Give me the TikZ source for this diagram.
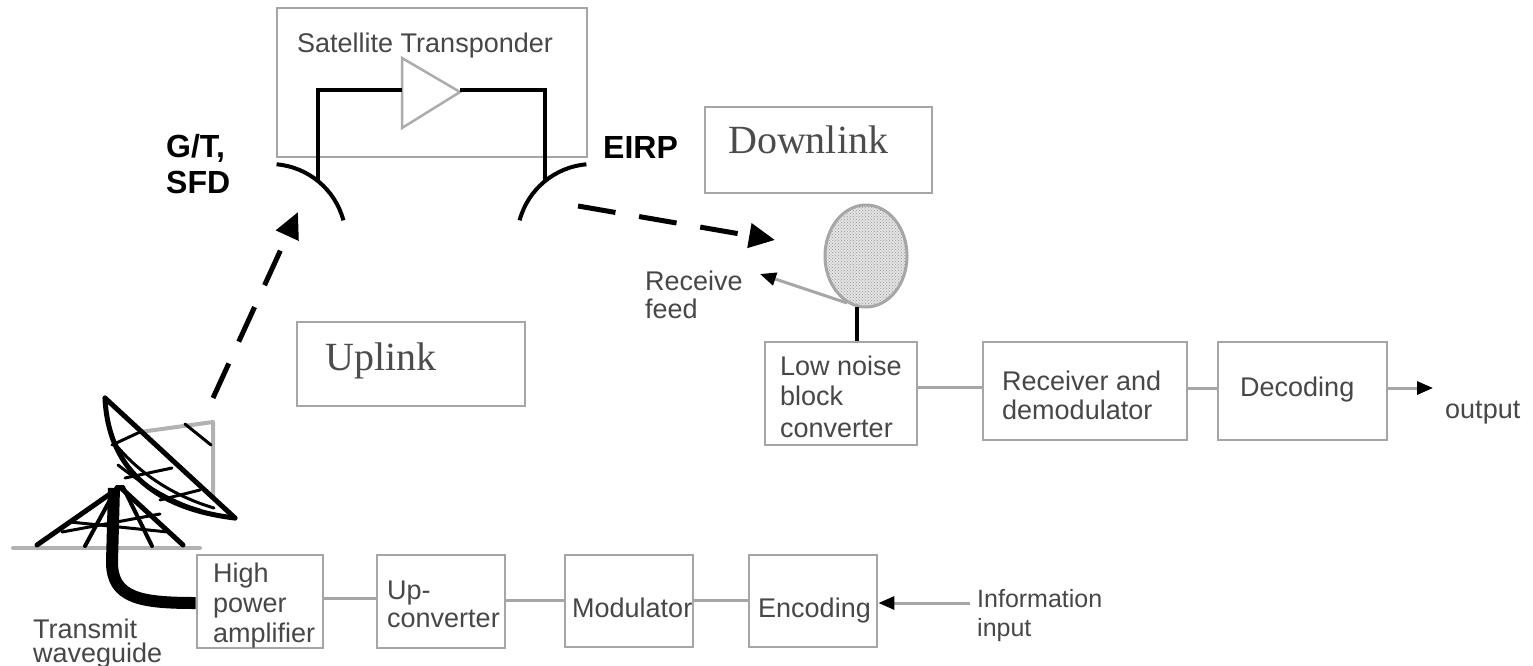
\documentclass[tikz,border=0pt]{standalone}
\usepackage{fontspec}
\setmainfont{Liberation Serif}
\setsansfont{Liberation Sans}
\usetikzlibrary{arrows.meta,patterns,shapes.geometric}
\begin{document}
\begin{tikzpicture}[x=1pt,y=-1pt,
  box/.style={draw=gray!70, line width=2.8pt, inner sep=0pt},
  lbl/.style={anchor=base west, inner sep=0pt, text=black!72, font=\sffamily\fontsize{27}{30}\selectfont},
  smalllbl/.style={anchor=base west, inner sep=0pt, text=black!72, font=\sffamily\fontsize{25}{28}\selectfont},
  boldlbl/.style={anchor=base west, inner sep=0pt, text=black, font=\sffamily\bfseries\fontsize{32}{35}\selectfont},
  seriflbl/.style={anchor=base west, inner sep=0pt, text=black!70, font=\rmfamily\fontsize{40}{44}\selectfont},
  conn/.style={draw=gray!70, line width=3pt},
  wire/.style={draw=black, line width=4pt},
  dasharrow/.style={draw=black, line width=5pt, dash pattern=on 38pt off 24pt, -{Triangle[length=26pt,width=24pt]}},
  tipped/.style={-{Triangle[color=black,length=16pt,width=13pt]}}
]
\useasboundingbox (0,0) rectangle (1533,665);
\fill[white] (0,0) rectangle (1533,665);

% ---------- satellite transponder ----------
\node[box, minimum width=310pt, minimum height=149pt] (trans) at (432,82.5) {};
\node[lbl] (tsat) at (297,52) {Satellite Transponder};
\draw[gray!65, line width=2.5pt, line join=miter] (402,58) -- (460,92) -- (402,128) -- cycle;
\coordinate (ampin) at (402,90);
\coordinate (ampout) at (460,90);
\draw[wire, line join=miter] (318,182) -- (318,90) -- (ampin);
\draw[wire, line join=miter] (ampout) -- (545,90) -- (545,182);
% receive / transmit antennas of the satellite
\draw[wire] (270,240) ++(-85:76) arc[start angle=-85, end angle=-15, radius=76];
\draw[wire] (593,240) ++(-95:76) arc[start angle=-95, end angle=-165, radius=76];
\node[boldlbl] (tgt) at (166,157) {G/T,};
\node[boldlbl] (tsfd) at (166,193) {SFD};
\node[boldlbl] (teirp) at (603,158) {EIRP};

% ---------- link labels ----------
\node[box, minimum width=227pt, minimum height=86pt] (down) at (818.5,150) {};
\node[seriflbl] (tdown) at (728,153) {Downlink};
\node[box, minimum width=228pt, minimum height=84pt] (up) at (411,364) {};
\node[seriflbl] (tup) at (325,370) {Uplink};

% ---------- dashed links ----------
\coordinate (ulstart) at (213,398);
\coordinate (ulend) at (298,212);
\draw[dasharrow] (ulstart) -- (ulend);
\coordinate (dlstart) at (578,206);
\coordinate (dlend) at (775,240);
\draw[dasharrow] (dlstart) -- (dlend);

% ---------- receive chain ----------
\node[ellipse, draw=gray!70, line width=3pt, minimum width=82pt, minimum height=102pt,
      preaction={fill=gray!22}, pattern=crosshatch dots, pattern color=gray!80] (rdish) at (866,256) {};
\node[box, minimum width=152pt, minimum height=103pt] (lnb) at (841,393.5) {};
\node[box, minimum width=204pt, minimum height=98pt] (rx) at (1085,391) {};
\node[box, minimum width=169pt, minimum height=98pt] (dec) at (1302.5,391) {};
\draw[wire] (rdish.-100) -- (rdish.-100 |- lnb.north);
\coordinate (feedtip) at (760,274);
\draw[conn, tipped] (rdish.-112) -- (feedtip);
\node[lbl] (trec1) at (645,290) {Receive};
\node[lbl] (trec2) at (645,318) {feed};
\node[lbl] (tl1) at (780,375) {Low noise};
\node[lbl] (tl2) at (780,405) {block};
\node[lbl] (tl3) at (780,437) {converter};
\node[lbl] (trx1) at (1002,390) {Receiver and};
\node[lbl] (trx2) at (1002,419) {demodulator};
\node[lbl] (tdec) at (1240,396) {Decoding};
\draw[conn] (lnb.east |- 0,387) -- (rx.west |- 0,387);
\draw[conn] (rx.east |- 0,388) -- (dec.west |- 0,388);
\coordinate (outend) at (1433,388);
\draw[conn, tipped] (dec.east |- 0,388) -- (outend);
\node[lbl] (tout) at (1445,418) {output};

% ---------- transmit chain ----------
\node[box, minimum width=126pt, minimum height=93pt] (hpa) at (260,601.5) {};
\node[box, minimum width=128pt, minimum height=93pt] (upc) at (441,601.5) {};
\node[box, minimum width=128pt, minimum height=92pt] (mod) at (629,601) {};
\node[box, minimum width=128pt, minimum height=92pt] (enc) at (813,601) {};
\node[lbl] (th1) at (213,582) {High};
\node[lbl] (th2) at (213,612) {power};
\node[lbl] (th3) at (213,642) {amplifier};
\node[lbl] (tu1) at (387,599) {Up-};
\node[lbl] (tu2) at (387,627) {converter};
\node[lbl] (tmod) at (572,617) {Modulator};
\node[lbl] (tenc) at (758,617) {Encoding};
\draw[conn] (hpa.east |- 0,598) -- (upc.west |- 0,598);
\draw[conn] (upc.east |- 0,600) -- (mod.west |- 0,600);
\draw[conn] (mod.east |- 0,600) -- (enc.west |- 0,600);
\coordinate (infostart) at (970,603);
\draw[conn, tipped] (infostart) -- (enc.east |- 0,603);
\node[smalllbl] (tinf1) at (977,607) {Information};
\node[smalllbl] (tinf2) at (977,636) {input};
\node[lbl] (ttw1) at (33,638) {Transmit};
\node[lbl] (ttw2) at (33,662) {waveguide};

% ---------- earth station antenna ----------
\begin{scope}[line cap=round, line join=round]
  \draw[gray!60, line width=4pt] (13,548) -- (200,548);
  % mount
  \draw[black, line width=5pt] (37,545) -- (120,487) -- (183,545);
  \draw[black, line width=4pt] (85,546) -- (117,487);
  \draw[black, line width=4pt] (152,546) -- (123,487);
  \draw[black, line width=3pt] (70,522) -- (168,532);
  \draw[black, line width=3pt] (62,532) -- (160,514);
  % waveguide
  \draw[black, line width=12pt, line cap=butt] (114,488) -- (112,562) .. controls (112,598) and (140,603) .. (hpa.west |- 0,603);
  % feed struts
  \draw[gray!60, line width=4pt] (140,432) -- (213,422) -- (213,497);
  \draw[black, line width=3pt] (185,424) -- (211,445);
  % dish
  \draw[black, line width=3pt] (112,440) .. controls (135,470) and (170,495) .. (214,508);
  \draw[black, line width=3pt] (118,465) .. controls (150,490) and (180,505) .. (200,510);
  \draw[black, line width=3pt] (112,445) -- (140,432);
  \draw[black, line width=3pt] (125,478) -- (172,468);
  \draw[black, line width=3pt] (160,500) -- (200,490);
  \draw[black, line width=5pt] (105,398) .. controls (108,465) and (150,508) .. (235,518);
  \draw[black, line width=5pt] (105,398) -- (235,518);
\end{scope}
\end{tikzpicture}
\end{document}
